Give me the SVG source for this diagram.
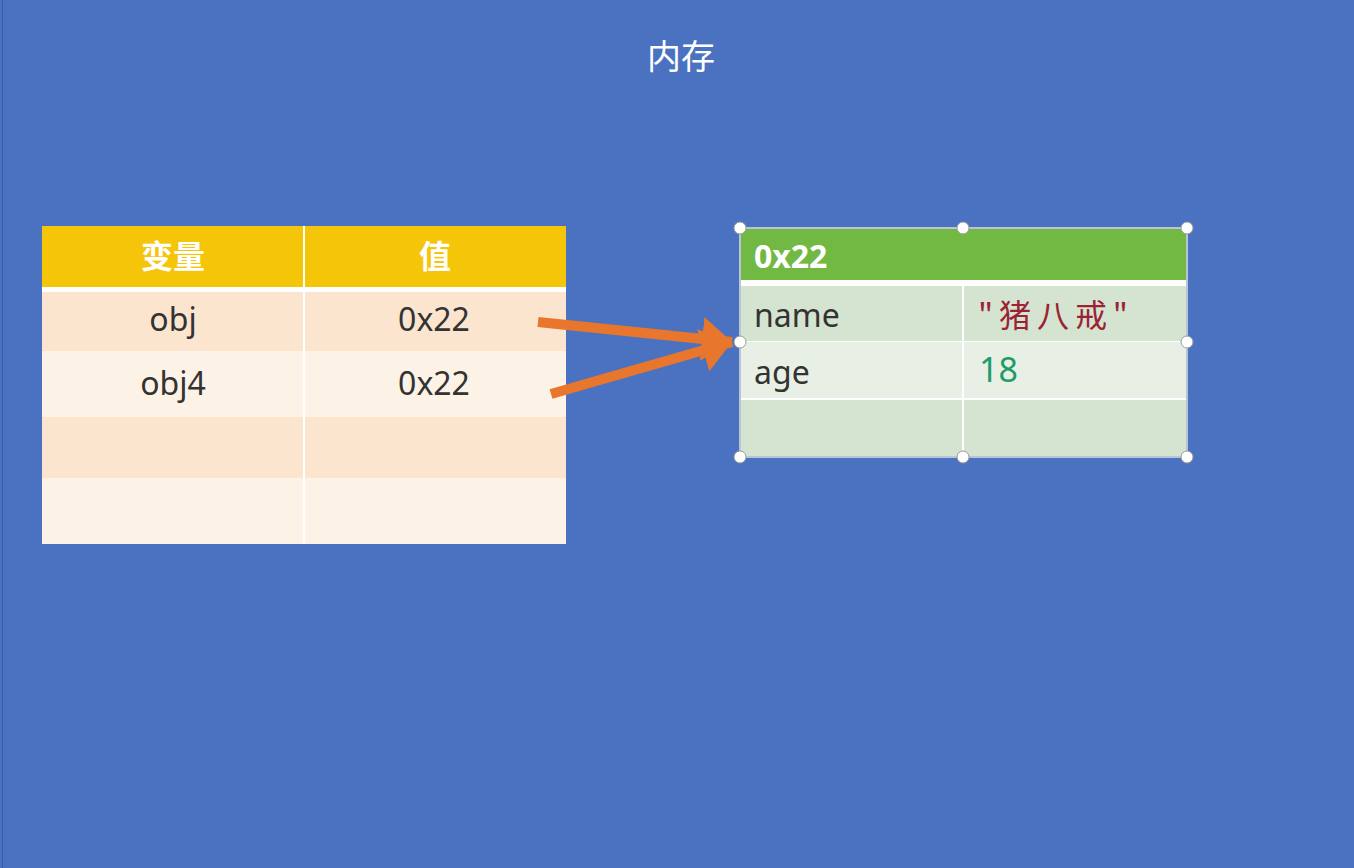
<svg xmlns="http://www.w3.org/2000/svg" width="1354" height="868" viewBox="0 0 1354 868">
<style>
.t{font-family:"Noto Sans","Noto Sans CJK SC",sans-serif;font-size:32px;fill:#333333}
.c{text-anchor:middle}
.h{fill:#ffffff;font-weight:bold}
.handle{fill:#ffffff;stroke:#9a9a9a;stroke-width:1}
.arrow{stroke:#E8762D;stroke-width:10;fill:none}
</style>
<defs>
<marker id="ah" markerUnits="userSpaceOnUse" markerWidth="32" markerHeight="44" refX="30" refY="22" orient="auto">
<path d="M0,0 L30,22 L0,44 Z" fill="#E8762D"/>
</marker>
</defs>
<rect width="1354" height="868" fill="#4A72C1"/>
<line x1="2.5" y1="0" x2="2.5" y2="868" stroke="#3A5C9E" stroke-width="1"/>
<text class="t c" x="681" y="69" style="fill:#ffffff;font-size:34px;font-family:'Noto Sans CJK SC',sans-serif">内存</text>

<g id="var-table">
<rect x="42" y="226" width="524" height="318" fill="#ffffff"/>
<rect x="42" y="226" width="524" height="61" fill="#F5C50A"/>
<rect x="42" y="292" width="524" height="59" fill="#FBE5CF"/>
<rect x="42" y="351" width="524" height="66" fill="#FDF2E6"/>
<rect x="42" y="417" width="524" height="61" fill="#FBE5CF"/>
<rect x="42" y="478" width="524" height="66" fill="#FDF2E6"/>
<line x1="304" y1="226" x2="304" y2="544" stroke="#ffffff" stroke-width="2"/>
<text class="t c h" x="173" y="268" style="font-family:'Noto Sans CJK SC',sans-serif">变量</text>
<text class="t c h" x="435" y="268" style="font-family:'Noto Sans CJK SC',sans-serif">值</text>
<text class="t c" x="173" y="331">obj</text>
<text class="t c" x="434" y="331">0x22</text>
<text class="t c" x="173" y="395">obj4</text>
<text class="t c" x="434" y="395">0x22</text>
</g>

<g id="obj-0x22">
<rect x="740" y="228" width="447" height="229" fill="#ffffff" stroke="#B8C4D8" stroke-width="2"/>
<rect x="741" y="229" width="445" height="51" fill="#72B944"/>
<rect x="741" y="286" width="445" height="55" fill="#D5E4D0"/>
<rect x="741" y="342" width="445" height="56" fill="#E8F0E5"/>
<rect x="741" y="400" width="445" height="56" fill="#D5E4D0"/>
<line x1="963" y1="286" x2="963" y2="456" stroke="#ffffff" stroke-width="2"/>
<text class="t h" x="754" y="268">0x22</text>
<text class="t" x="754" y="327">name</text>
<text class="t" x="754" y="384">age</text>
<text class="t" x="978" y="327" textLength="150" style="fill:#9B2335;font-family:'Noto Sans CJK SC',sans-serif">"猪八戒"</text>
<text class="t" x="979" y="382" style="fill:#1F9B68;font-size:34px">18</text>
<circle class="handle" cx="740" cy="228" r="6"/>
<circle class="handle" cx="963" cy="228" r="6"/>
<circle class="handle" cx="1187" cy="228" r="6"/>
<circle class="handle" cx="740" cy="342" r="6"/>
<circle class="handle" cx="1187" cy="342" r="6"/>
<circle class="handle" cx="740" cy="457" r="6"/>
<circle class="handle" cx="963" cy="457" r="6"/>
<circle class="handle" cx="1187" cy="457" r="6"/>
</g>

<g id="connectors">
<line class="arrow" x1="538" y1="322" x2="732" y2="342" marker-end="url(#ah)"/>
<line class="arrow" x1="551" y1="394" x2="732" y2="342" marker-end="url(#ah)"/>
</g>
</svg>
